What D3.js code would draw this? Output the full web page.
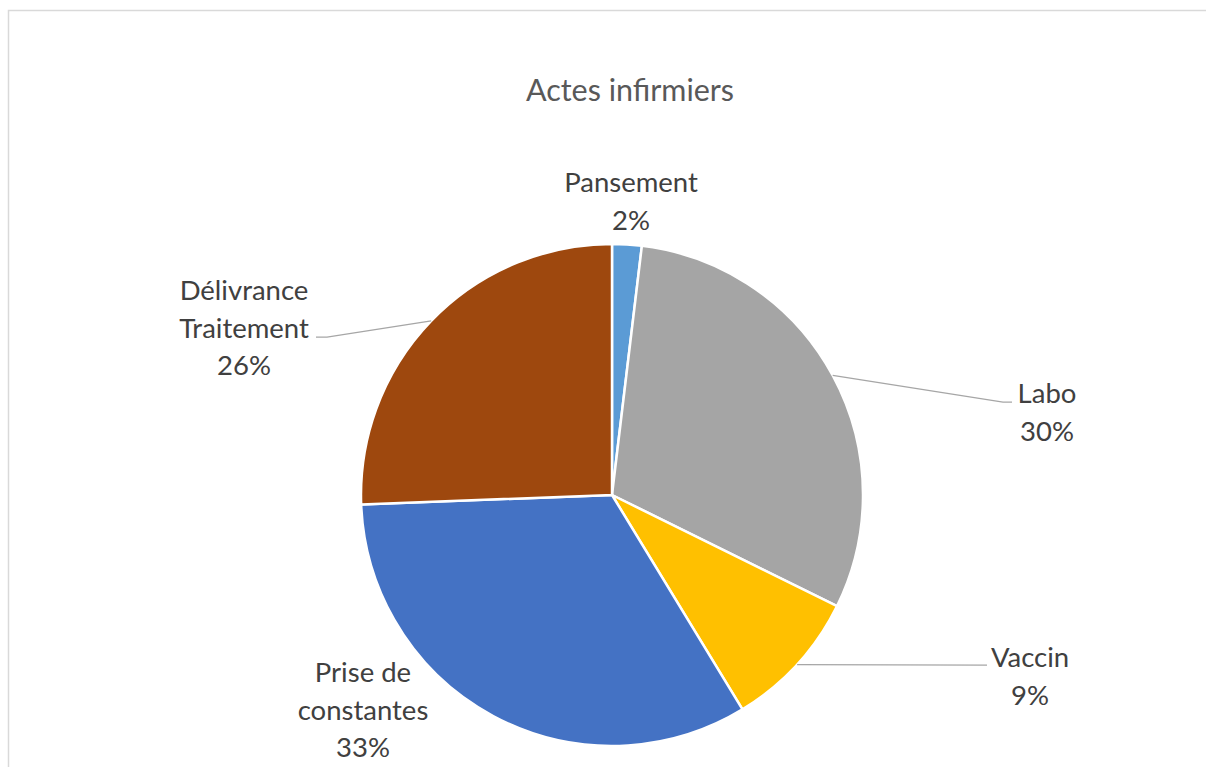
<!DOCTYPE html>
<html>
<head>
<meta charset="utf-8">
<script src="https://cdn.jsdelivr.net/npm/d3@7"></script>
<style>
  html, body { margin: 0; padding: 0; background: #fff; }
  svg { display: block; }
</style>
</head>
<body>
<svg id="chart" width="1206" height="767"></svg>
<script>
// Données : répartition des actes infirmiers (en %)
const categories = ["Pansement", "Labo", "Vaccin", "Prise de constantes", "Délivrance Traitement"];
const values = [1.9, 30.4, 9.0, 33.1, 25.6];
const percentLabels = ["2%", "30%", "9%", "33%", "26%"];
const labelLines = [["Pansement"], ["Labo"], ["Vaccin"], ["Prise de", "constantes"], ["Délivrance", "Traitement"]];
const colors = ["#5b9bd5", "#a5a5a5", "#ffc000", "#4472c4", "#9e480e"];

// Mise en page des étiquettes (centre x, ligne de base de la 1re ligne, coude de la ligne de rappel)
const labelLayout = [
  { x: 631, y: 192, leader: null },
  { x: 1047, y: 403, leader: [[1003, 402], [1012, 402]] },
  { x: 1030, y: 667, leader: [[987, 665]] },
  { x: 363, y: 682, leader: null },
  { x: 244, y: 300, leader: [[327, 337], [316, 337]] }
];

const svg = d3.select("#chart");
const W = 1206, H = 767;
const cx = 612, cy = 495, R = 251;
const fontFamily = "Lato, 'Open Sans', sans-serif";

// Cadre de la zone de graphique
svg.append("rect")
  .attr("x", 8.5).attr("y", 10.5)
  .attr("width", W + 20).attr("height", H + 20)
  .attr("fill", "#fff")
  .attr("stroke", "#d9d9d9")
  .attr("stroke-width", 1.5);

// Titre
svg.append("text")
  .attr("x", 630).attr("y", 101)
  .attr("text-anchor", "middle")
  .attr("font-family", fontFamily)
  .attr("font-size", 30.5)
  .attr("fill", "#595959")
  .text("Actes infirmiers");

const data = categories.map((c, i) => ({ name: c, value: values[i], i }));

const pie = d3.pie().sort(null).value(d => d.value);
const arcs = pie(data);
const arc = d3.arc().innerRadius(0).outerRadius(R);

const g = svg.append("g").attr("transform", `translate(${cx},${cy})`);

g.selectAll("path.slice")
  .data(arcs)
  .join("path")
  .attr("class", "slice")
  .attr("d", arc)
  .attr("fill", d => colors[d.data.i])
  .attr("stroke", "#fff")
  .attr("stroke-width", 2.5)
  .attr("stroke-linejoin", "round");

// Lignes de rappel : du bord de la part (angle médian) vers l'étiquette
arcs.forEach((a, i) => {
  const lay = labelLayout[i];
  if (!lay.leader) return;
  const mid = (a.startAngle + a.endAngle) / 2;
  const start = [cx + R * Math.sin(mid), cy - R * Math.cos(mid)];
  const pts = [start, ...lay.leader];
  svg.append("path")
    .attr("d", d3.line()(pts))
    .attr("fill", "none")
    .attr("stroke", "#a6a6a6")
    .attr("stroke-width", 1.25);
});

// Étiquettes de données
const lineH = 37.5;
arcs.forEach((a, i) => {
  const lay = labelLayout[i];
  const lines = [...labelLines[i], percentLabels[i]];
  const t = svg.append("text")
    .attr("text-anchor", "middle")
    .attr("font-family", fontFamily)
    .attr("font-size", 27.5)
    .attr("fill", "#404040");
  lines.forEach((ln, k) => {
    t.append("tspan")
      .attr("x", lay.x)
      .attr("y", lay.y + k * lineH)
      .text(ln);
  });
});
</script>
</body>
</html>
